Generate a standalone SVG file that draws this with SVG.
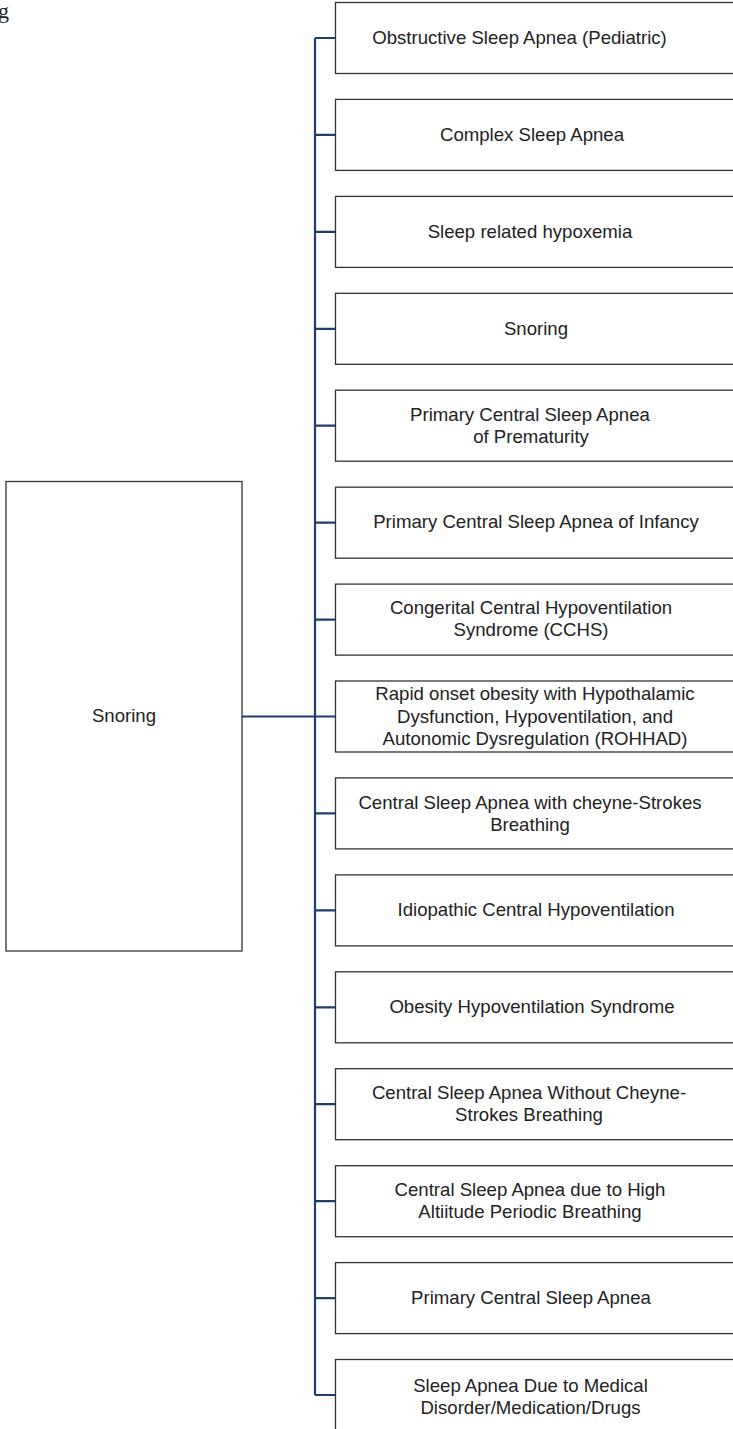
<svg xmlns="http://www.w3.org/2000/svg" width="733" height="1429" viewBox="0 0 733 1429">
<style>
.box{fill:#fff;stroke:#333;stroke-width:1.3}
.t{font-family:"Liberation Sans",Arial,sans-serif;font-size:18.6px;fill:#222;text-anchor:middle}
.c{fill:none;stroke:#1f3d6b;stroke-width:2.2}
</style>
<rect width="733" height="1429" fill="#fff"/>
<text x="-2" y="18" style="font-family:'Liberation Serif',serif;font-size:22px;fill:#222">g</text>
<g id="connectors">
<path class="c" d="M242 716.5H335M315 38V1395"/>
<path class="c" d="M315 38H335M315 134.9H335M315 231.9H335M315 328.8H335M315 425.7H335M315 522.7H335M315 619.6H335M315 813.4H335M315 910.4H335M315 1007.3H335M315 1104.2H335M315 1201.2H335M315 1298.1H335M315 1395H335"/>
</g>
<g id="root"><rect class="box" x="6" y="481.5" width="236" height="469.5"/><text class="t" x="124" y="722">Snoring</text></g>
<g id="n1"><rect class="box" x="335.5" y="2.5" width="420" height="71"/><text class="t" x="519.5" y="44">Obstructive Sleep Apnea (Pediatric)</text></g>
<g id="n2"><rect class="box" x="335.5" y="99.4" width="420" height="71"/><text class="t" x="532" y="141">Complex Sleep Apnea</text></g>
<g id="n3"><rect class="box" x="335.5" y="196.4" width="420" height="71"/><text class="t" x="530" y="238">Sleep related hypoxemia</text></g>
<g id="n4"><rect class="box" x="335.5" y="293.3" width="420" height="71"/><text class="t" x="536" y="335">Snoring</text></g>
<g id="n5"><rect class="box" x="335.5" y="390.2" width="420" height="71"/><text class="t" x="530" y="421">Primary Central Sleep Apnea</text><text class="t" x="531" y="443">of Prematurity</text></g>
<g id="n6"><rect class="box" x="335.5" y="487.2" width="420" height="71"/><text class="t" x="536" y="528">Primary Central Sleep Apnea of Infancy</text></g>
<g id="n7"><rect class="box" x="335.5" y="584.1" width="420" height="71"/><text class="t" x="531" y="614">Congerital Central Hypoventilation</text><text class="t" x="531" y="636">Syndrome (CCHS)</text></g>
<g id="n8"><rect class="box" x="335.5" y="681" width="420" height="71"/><text class="t" x="535" y="700">Rapid onset obesity with Hypothalamic</text><text class="t" x="535" y="723">Dysfunction, Hypoventilation, and</text><text class="t" x="535" y="745">Autonomic Dysregulation (ROHHAD)</text></g>
<g id="n9"><rect class="box" x="335.5" y="777.9" width="420" height="71"/><text class="t" x="530" y="809">Central Sleep Apnea with cheyne-Strokes</text><text class="t" x="530" y="831">Breathing</text></g>
<g id="n10"><rect class="box" x="335.5" y="874.9" width="420" height="71"/><text class="t" x="536" y="916">Idiopathic Central Hypoventilation</text></g>
<g id="n11"><rect class="box" x="335.5" y="971.8" width="420" height="71"/><text class="t" x="532" y="1013">Obesity Hypoventilation Syndrome</text></g>
<g id="n12"><rect class="box" x="335.5" y="1068.7" width="420" height="71"/><text class="t" x="529" y="1099">Central Sleep Apnea Without Cheyne-</text><text class="t" x="529" y="1121">Strokes Breathing</text></g>
<g id="n13"><rect class="box" x="335.5" y="1165.7" width="420" height="71"/><text class="t" x="530" y="1196">Central Sleep Apnea due to High</text><text class="t" x="530" y="1218">Altiitude Periodic Breathing</text></g>
<g id="n14"><rect class="box" x="335.5" y="1262.6" width="420" height="71"/><text class="t" x="531" y="1304">Primary Central Sleep Apnea</text></g>
<g id="n15"><rect class="box" x="335.5" y="1359.5" width="420" height="71"/><text class="t" x="530.5" y="1392">Sleep Apnea Due to Medical</text><text class="t" x="530.5" y="1414">Disorder/Medication/Drugs</text></g>
</svg>
